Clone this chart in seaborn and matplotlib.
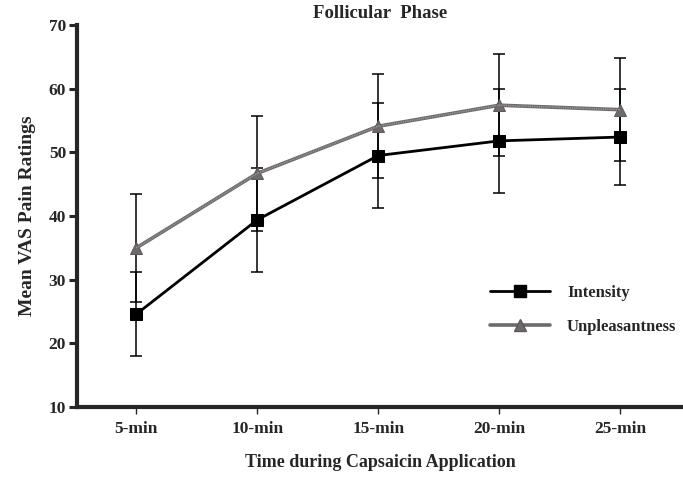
import numpy as np
import pandas as pd
import seaborn as sns
import matplotlib
matplotlib.use('Agg')
import matplotlib.pyplot as plt
from matplotlib.lines import Line2D

# data
times = ['5-min', '10-min', '15-min', '20-min', '25-min']
intensity = [24.6, 39.4, 49.5, 51.8, 52.4]
intensity_err = [6.6, 8.2, 8.2, 8.2, 7.5]
unpleasant = [35.0, 46.7, 54.1, 57.4, 56.7]
unpleasant_err = [8.5, 9.0, 8.2, 8.0, 8.1]

sns.set_style('ticks')
plt.rcParams['font.family'] = ['Liberation Serif', 'DejaVu Serif']
plt.rcParams['font.weight'] = 'bold'

x = np.arange(1, len(times) + 1)
df = pd.DataFrame({
    'x': np.concatenate([x, x]),
    'y': intensity + unpleasant,
    'series': ['Intensity'] * len(x) + ['Unpleasantness'] * len(x),
})

fig = plt.figure(figsize=(6.83, 5.0), dpi=100)
ax = fig.add_axes([0.113, 0.186, 0.887, 0.764])

# error bars first so lines sit on top
ax.errorbar(x, unpleasant, yerr=unpleasant_err, fmt='none', ecolor='black',
            elinewidth=1.1, capsize=4.5, capthick=1.1, zorder=1)
ax.errorbar(x, intensity, yerr=intensity_err, fmt='none', ecolor='black',
            elinewidth=1.1, capsize=4.5, capthick=1.1, zorder=1)

sns.lineplot(data=df[df.series == 'Intensity'], x='x', y='y', color='black',
             lw=2, marker='s', markersize=8, markeredgecolor='black', ax=ax, zorder=3)
sns.lineplot(data=df[df.series == 'Unpleasantness'], x='x', y='y', color='#6e6a6a',
             lw=2.6, marker='^', markersize=8, markeredgecolor='#5e5a5a', ax=ax, zorder=2)
ax.plot(x, unpleasant, color='#a09c9c', lw=1.1, ls=(0, (0.6, 0.6)), zorder=2.5)

ax.set_xlim(0.51, 5.52)
ax.set_ylim(10, 70)
ax.set_xticks(x)
ax.set_xticklabels(times, fontsize=12.5, fontweight='bold')
ax.set_yticks(np.arange(10, 71, 10))
ax.set_yticklabels([str(v) for v in range(10, 71, 10)], fontsize=12.5, fontweight='bold')
ax.tick_params(axis='y', length=6, width=2.2, pad=2)
ax.tick_params(axis='x', length=5, width=1, pad=5)

for side in ['top', 'right']:
    ax.spines[side].set_visible(False)
for side in ['left', 'bottom']:
    ax.spines[side].set_linewidth(3)

ax.set_xlabel('Time during Capsaicin Application', fontsize=13, fontweight='bold', labelpad=12)
ax.set_ylabel('Mean VAS Pain Ratings', fontsize=14, fontweight='bold', labelpad=9)
ax.set_title('Follicular  Phase', fontsize=13.5, fontweight='bold', pad=5)

handles = [
    Line2D([], [], color='black', lw=2, marker='s', markersize=8),
    Line2D([], [], color='#6e6a6a', lw=2.6, marker='^', markersize=8, markeredgecolor='#5e5a5a'),
]
ax.legend(handles, ['Intensity', 'Unpleasantness'], loc='center left',
          bbox_to_anchor=(0.682, 0.254), frameon=False, borderpad=0, borderaxespad=0,
          handlelength=3.6, handletextpad=1.0, labelspacing=1.1,
          prop={'weight': 'bold', 'size': 12})

fig.savefig('out.png', dpi=100)
